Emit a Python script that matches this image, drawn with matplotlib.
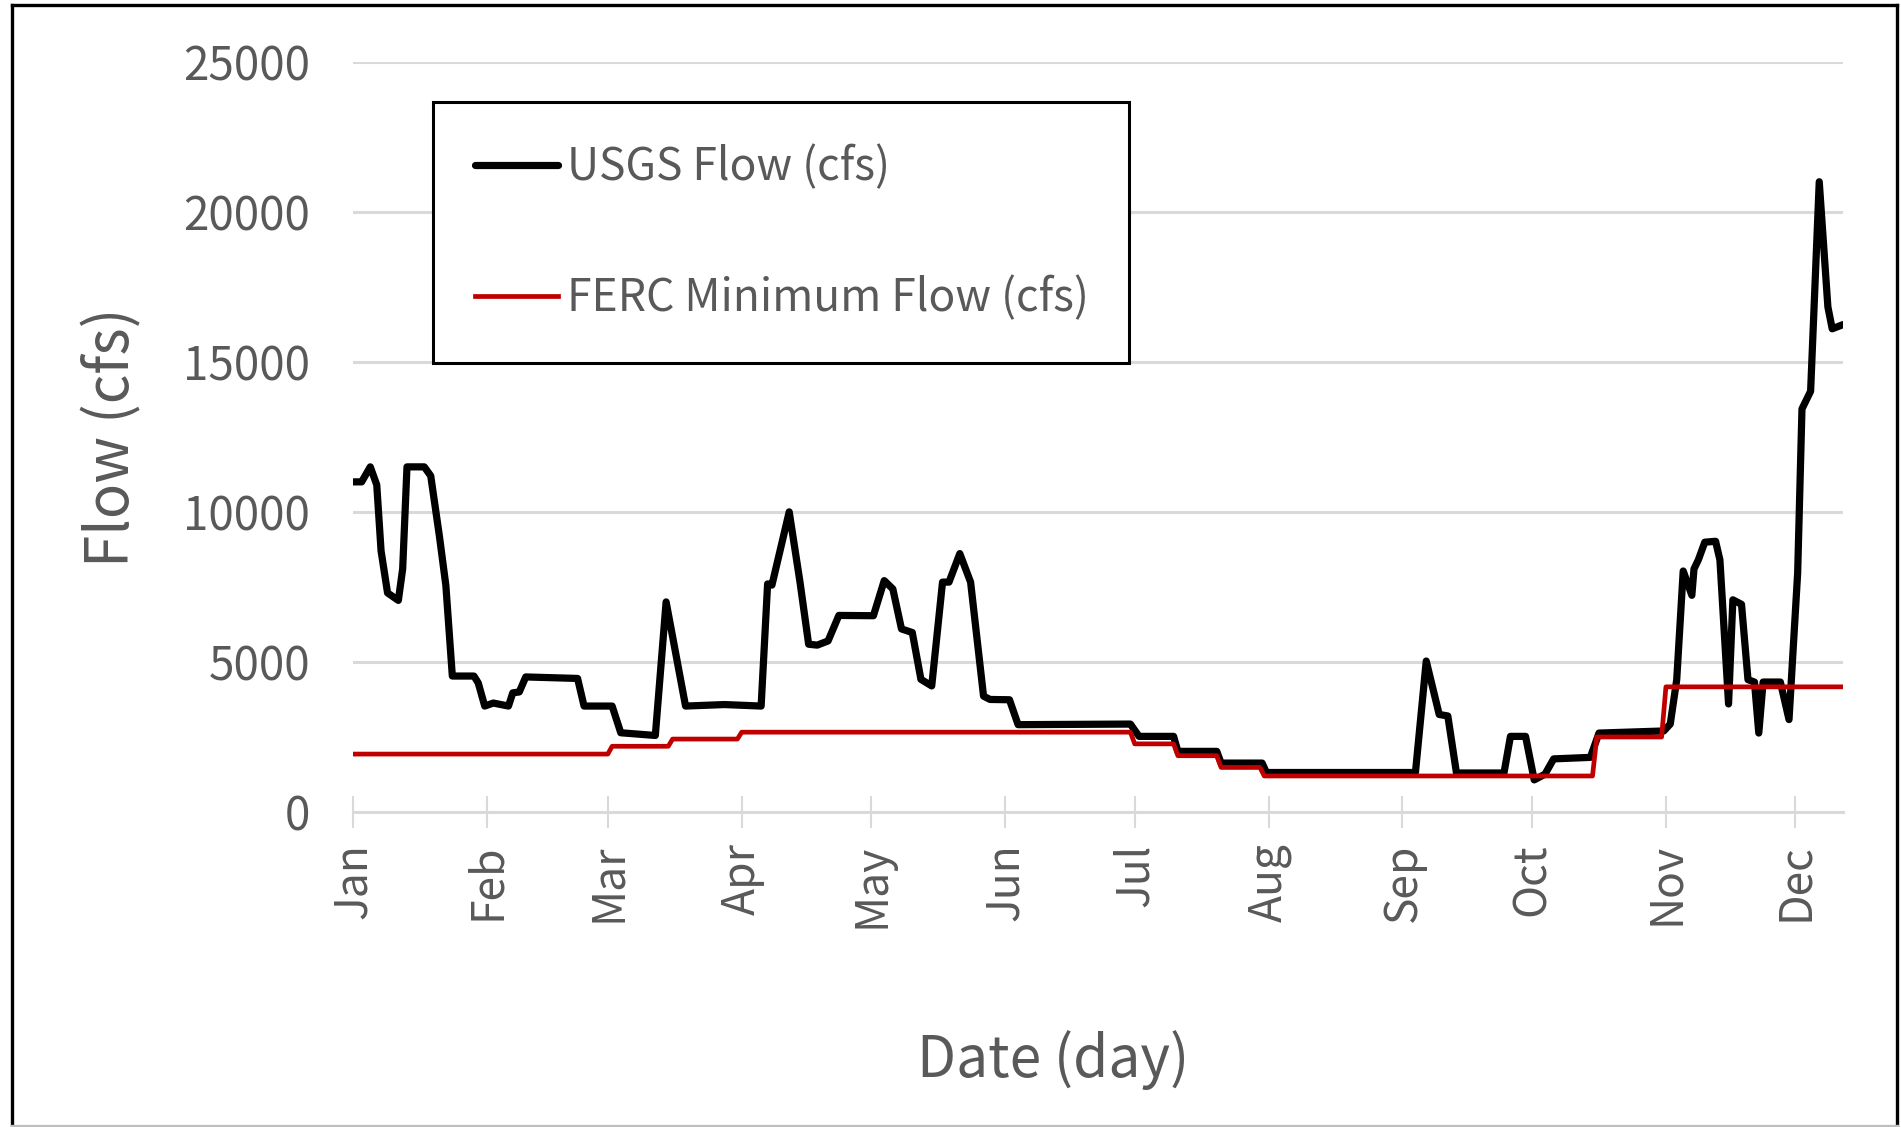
import matplotlib.pyplot as plt
from matplotlib.lines import Line2D

W, H = 1901, 1127

# month starts (day of year, Jan 1 = 0)
month_days = [0, 31, 59, 90, 120, 151, 181, 212, 243, 273, 304, 334]
month_labels = ['Jan', 'Feb', 'Mar', 'Apr', 'May', 'Jun',
                'Jul', 'Aug', 'Sep', 'Oct', 'Nov', 'Dec']
y_ticks = [0, 5000, 10000, 15000, 20000, 25000]

# USGS gauge flow
usgs_day = [0, 2, 4, 5.5, 6.5, 8, 10.5, 11.5, 12.5, 16.5, 18, 20, 21.5, 23, 28, 29,
            30.5, 32.5, 36, 37, 38.5, 40, 52, 53.5, 60, 62, 70, 72.5, 77, 86, 94.5,
            96, 97, 101, 103.5, 105.5, 107.5, 110, 112.5, 120.5, 123, 125, 127, 129.5,
            131.5, 134, 136.5, 138, 140.5, 143, 146, 147.5, 152, 154, 180, 182, 190,
            191, 200, 201, 210.5, 211.5, 246, 248.5, 251.5, 253.5, 255.5, 266.5, 268,
            271.5, 273.5, 276, 278, 286.5, 288.5, 303.5, 305, 306.5, 308, 310, 310.5,
            311.5, 313, 315.5, 316.5, 318.5, 319.5, 321.5, 323, 324.5, 325.5, 326.5,
            330.5, 332.5, 334.5, 335.5, 337.5, 339.5, 341.5, 342.5, 345]
usgs_flow = [11000, 11000, 11500, 10900, 8700, 7300, 7050, 8100, 11500, 11500, 11200,
             9200, 7550, 4530, 4530, 4300, 3530, 3630, 3530, 3970, 4000, 4500, 4450,
             3530, 3530, 2640, 2550, 7000, 3530, 3580, 3530, 7600, 7560, 10000, 7660,
             5590, 5560, 5700, 6550, 6540, 7710, 7430, 6100, 5980, 4420, 4200, 7660,
             7660, 8610, 7660, 3860, 3750, 3740, 2910, 2930, 2520, 2520, 2020, 2020,
             1630, 1630, 1316, 1316, 5030, 3250, 3200, 1300, 1300, 2520, 2520, 1070,
             1260, 1770, 1820, 2630, 2700, 2930, 4410, 8030, 7220, 8100, 8400, 8990,
             9020, 8400, 3600, 7070, 6920, 4410, 4330, 2630, 4330, 4330, 3080, 7960,
             13430, 14020, 21000, 16830, 16100, 16240]

# FERC minimum flow schedule
ferc_day = [0, 59, 60, 73, 74, 89, 90, 180, 181, 190, 191, 200, 201, 210, 211, 287,
            288, 303, 304, 345]
ferc_flow = [1930, 1930, 2190, 2190, 2430, 2430, 2660, 2660, 2270, 2270, 1875, 1875,
             1485, 1485, 1200, 1200, 2500, 2500, 4170, 4170]

plt.rcParams['font.family'] = ['Noto Sans CJK JP', 'DejaVu Sans']
txt = '#595959'
grid = '#D9D9D9'

fig = plt.figure(figsize=(W / 100, H / 100), dpi=100)
ax = fig.add_axes([353 / W, 1 - 812 / H, (1843 - 353) / W, (812 - 61.7) / H])

ax.plot(usgs_day, usgs_flow, color='black', lw=5.2, solid_joinstyle='round',
        solid_capstyle='round', label='USGS Flow (cfs)', zorder=3)
ax.plot(ferc_day, ferc_flow, color='#C00000', lw=3.4, label='FERC Minimum Flow (cfs)',
        zorder=4)

ax.set_xlim(0, 345)
ax.set_ylim(0, 25000)
ax.set_yticks(y_ticks)
ax.set_xticks(month_days)
ax.set_xticklabels(month_labels, rotation=90)

ax.yaxis.grid(True, color=grid, lw=2.2)
ax.set_axisbelow(True)
for s in ['top', 'right', 'left']:
    ax.spines[s].set_visible(False)
ax.spines['bottom'].set_color(grid)
ax.spines['bottom'].set_linewidth(2.2)

ax.tick_params(axis='y', length=0, pad=31, labelsize=33, labelcolor=txt)
ax.tick_params(axis='x', direction='inout', length=23, width=1.5, color=grid,
               pad=11, labelsize=32, labelcolor=txt)

ax.set_ylabel('Flow (cfs)', fontsize=42, color=txt, va='center')
ax.yaxis.set_label_coords((113 - 353) / 1490, 0.5)
ax.set_xlabel('Date (day)', fontsize=41, color=txt)
ax.xaxis.set_label_coords((1053 - 353) / 1490, (812 - 1030) / 750.3)

leg = ax.legend(loc='upper left', bbox_to_anchor=(433 / W, 1 - 362 / H, (1129 - 433) / W, 260 / H),
                bbox_transform=fig.transFigure, mode='expand', borderaxespad=0,
                fontsize=32, handlelength=1.87, handletextpad=0.2, borderpad=0.95,
                labelspacing=1.91, fancybox=False, framealpha=1)
leg.get_frame().set_edgecolor('black')
leg.get_frame().set_linewidth(2.2)
for t in leg.get_texts():
    t.set_color(txt)

# outer chart border
border = [([12, 12], [5, 1127], 'black'), ([12, 1896.5], [5, 5], 'black'),
          ([1896.5, 1896.5], [5, 1127], 'black'), ([12, 1896.5], [1126, 1126], '#BFBFBF')]
for xs, ys, c in border:
    fig.add_artist(Line2D([x / W for x in xs], [1 - y / H for y in ys], color=c, lw=2.4,
                          transform=fig.transFigure))

fig.savefig('out.png', dpi=100, facecolor='white')
